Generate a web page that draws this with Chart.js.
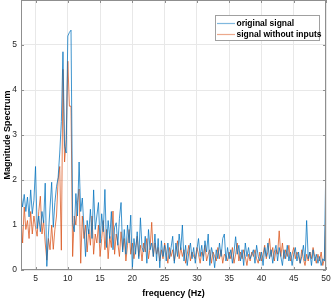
<!DOCTYPE html>
<html>
<head>
<meta charset="utf-8">
<script src="https://cdn.jsdelivr.net/npm/chart.js@4/dist/chart.umd.min.js"></script>
<style>
    html, body { margin: 0; padding: 0; background: #fff; }
    #wrap { width: 334px; height: 299px; position: relative; }
</style>
</head>
<body>
<div id="wrap"><canvas id="chart"></canvas></div>
<script>
// frequency grid (Hz)
const freqStart = 2.75;
const freqStep = 0.25;
const xTicks = [5, 10, 15, 20, 25, 30, 35, 40, 45, 50];
const yTicks = [0, 1, 2, 3, 4, 5];

// magnitude, 4 samples per Hz
const originalSignal = [
    1.70, 1.40, 1.68, 1.30,  1.62, 1.18, 1.78, 1.25,  1.55, 2.30, 0.92, 1.20,
    0.85, 1.30, 1.05, 1.93,  0.08, 0.80, 1.40, 1.95,  0.95, 1.50, 1.85, 2.05,
    2.60, 3.30, 4.85, 2.75,  2.60, 5.20, 5.28, 5.33,  1.05, 0.85, 1.70, 1.20,
    2.40, 1.30, 1.60, 0.95,  0.30, 1.10, 0.80, 1.35,  0.70, 1.78, 0.90, 1.20,
    1.50, 0.60, 1.25, 0.85,  1.79, 0.50, 1.10, 0.70,  1.30, 0.45, 0.95, 1.05,
    0.55, 1.15, 1.50, 0.40,  0.90, 0.35, 1.00, 0.60,  1.22, 0.02, 0.70, 0.35,
    0.85, 0.25, 1.16, 0.50,  0.40, 0.75, 0.15, 0.90,  0.45, 0.60, 0.30, 0.80,
    0.20, 0.70, 0.05, 0.65,  0.30, 0.55, 0.20, 0.60,  0.25, 0.50, 0.75, 0.15,
    0.60, 0.30, 0.80, 0.45,  1.00, 0.20, 0.55, 0.10,  0.40, 0.60, 0.25, 0.50,
    0.15, 0.45, 0.70, 0.30,  0.55, 0.20, 0.65, 0.40,  0.80, 0.10, 0.50, 0.35,
    0.05, 0.45, 0.25, 0.60,  0.30, 0.70, 0.80, 0.20,  0.50, 0.25, 0.45, 0.15,
    0.40, 0.74, 0.35, 0.55,  0.20, 0.45, 0.10, 0.60,  0.30, 0.50, 0.25, 0.35,
    0.45, 0.15, 0.55, 0.30,  0.20, 0.40, 0.10, 0.50,  0.30, 0.60, 0.25, 0.45,
    0.15, 0.40, 0.55, 0.20,  0.50, 0.30, 0.10, 0.45,  0.25, 0.55, 0.20, 0.40,
    0.10, 0.35, 0.50, 0.20,  0.40, 0.15, 0.30, 0.55,  0.20, 1.10, 0.25, 0.40,
    0.10, 0.45, 0.20, 0.35,  0.15, 0.30, 0.10, 0.25,  0.20, 2.60
];

const signalWithoutInputs = [
    1.20, 0.60, 1.40, 0.90,  1.10, 0.70, 1.30, 0.80,  1.20, 0.95, 0.75, 1.30,
    1.64, 0.80, 1.10, 0.60,  0.22, 0.70, 0.45, 1.00,  0.46, 0.90, 1.20, 2.00,
    2.30, 0.44, 4.46, 2.40,  2.90, 4.64, 3.64, 3.64,  0.30, 1.20, 1.00, 1.50,
    1.80, 0.15, 1.20, 0.70,  1.00, 0.40, 0.90, 0.55,  1.20, 0.35, 0.80, 0.60,
    1.00, 0.30, 0.70, 1.10,  0.45, 0.90, 0.25, 0.75,  0.50, 1.31, 0.35, 0.80,
    0.60, 0.30, 0.85, 0.45,  0.70, 0.20, 0.55, 0.90,  0.35, 0.60, 0.25, 0.50,
    0.75, 0.30, 0.55, 0.20,  0.60, 0.40, 0.70, 0.25,  0.50, 1.06, 0.30, 0.60,
    0.35, 0.50, 0.20, 0.45,  0.25, 0.60, 0.40, 0.15,  0.50, 0.30, 0.45, 0.20,
    0.40, 0.65, 0.25, 0.50,  0.30, 0.45, 0.15, 0.35,  0.55, 0.20, 0.40, 0.30,
    0.25, 0.50, 0.35, 0.15,  0.40, 0.30, 0.55, 0.20,  0.35, 0.45, 0.15, 0.40,
    0.30, 0.20, 0.50, 0.25,  0.45, 0.15, 0.35, 0.30,  0.20, 0.40, 0.25, 0.50,
    0.15, 0.35, 0.60, 0.20,  0.40, 0.25, 0.45, 0.30,  0.10, 0.35, 0.20, 0.40,
    0.30, 0.45, 0.25, 0.15,  0.40, 0.20, 0.35, 0.55,  0.25, 0.40, 0.70, 0.30,
    0.50, 0.20, 0.45, 0.35,  0.87, 0.30, 0.60, 0.25,  0.45, 0.30, 0.55, 0.20,
    0.35, 0.50, 0.25, 0.40,  0.30, 0.15, 0.45, 0.25,  0.10, 0.35, 0.20, 0.40,
    0.25, 0.50, 0.30, 0.15,  0.35, 0.20, 0.40, 0.10,  0.25, 1.40
];

const seriesLabels = ['original signal', 'signal without inputs'];
const seriesColors = ['rgba(0,114,189,0.75)', 'rgba(217,83,25,0.75)'];

const toPoints = vals => vals.map((v, i) => ({ x: freqStart + i * freqStep, y: v }));

const FONT = '"Liberation Sans", Arial, sans-serif';
const AXIS_COLOR = '#8f8f8f';

// MATLAB style box, inward ticks, legend in the top right corner
const matlabBox = {
    id: 'matlabBox',
    afterDatasetsDraw(chart) {
        const { ctx, chartArea: a, scales } = chart;
        ctx.save();
        ctx.strokeStyle = AXIS_COLOR;
        ctx.lineWidth = 1;
        ctx.strokeRect(a.left + 0.5, a.top + 0.5, a.right - a.left - 1, a.bottom - a.top - 1);
        ctx.beginPath();
        xTicks.forEach(t => {
            const px = Math.round(scales.x.getPixelForValue(t)) + 0.5;
            ctx.moveTo(px, a.bottom); ctx.lineTo(px, a.bottom - 3);
            ctx.moveTo(px, a.top); ctx.lineTo(px, a.top + 3);
        });
        yTicks.forEach(t => {
            const py = Math.round(scales.y.getPixelForValue(t)) + 0.5;
            ctx.moveTo(a.left, py); ctx.lineTo(a.left + 3, py);
            ctx.moveTo(a.right, py); ctx.lineTo(a.right - 3, py);
        });
        ctx.stroke();

        // legend
        const bx = 215.5, by = 15.5, bw = 104, bh = 25;
        ctx.fillStyle = '#fff';
        ctx.fillRect(bx, by, bw, bh);
        ctx.strokeStyle = '#a0a0a0';
        ctx.strokeRect(bx, by, bw, bh);
        ctx.font = 'bold 8.5px ' + FONT;
        ctx.textBaseline = 'middle';
        ctx.fillStyle = '#000';
        seriesLabels.forEach((lab, i) => {
            const y = 23.5 + i * 11;
            ctx.strokeStyle = seriesColors[i].replace('0.75', '0.5');
            ctx.lineWidth = 1.2;
            ctx.beginPath();
            ctx.moveTo(217, y); ctx.lineTo(235, y);
            ctx.stroke();
            ctx.fillText(lab, 236.5, y);
        });
        ctx.restore();
    }
};

new Chart(document.getElementById('chart'), {
    type: 'line',
    data: {
        datasets: [
            { label: seriesLabels[0], data: toPoints(originalSignal) },
            { label: seriesLabels[1], data: toPoints(signalWithoutInputs) }
        ].map((d, i) => ({
            ...d,
            borderColor: seriesColors[i],
            borderWidth: 1,
            pointRadius: 0,
            tension: 0,
            fill: false
        }))
    },
    options: {
        responsive: true,
        maintainAspectRatio: false,
        animation: false,
        layout: { padding: { top: 0, right: 8, left: 0, bottom: 0 } },
        plugins: {
            legend: { display: false },
            tooltip: { enabled: false }
        },
        scales: {
            x: {
                type: 'linear',
                min: freqStart,
                max: 50,
                afterBuildTicks: s => { s.ticks = xTicks.map(v => ({ value: v })); },
                afterFit: s => { s.height = 29; s.paddingLeft = 0; s.paddingRight = 0; },
                grid: { color: '#e8e8e8', drawTicks: false },
                border: { display: false },
                ticks: { color: '#262626', font: { family: FONT, size: 8.5 }, padding: 4, maxRotation: 0 },
                title: {
                    display: true, text: 'frequency (Hz)', color: '#000',
                    font: { family: FONT, size: 9, weight: 'bold' }, padding: { top: 0, bottom: 0 }
                }
            },
            y: {
                min: 0,
                max: 6,
                afterBuildTicks: s => { s.ticks = yTicks.concat([6]).map(v => ({ value: v })); },
                afterFit: s => { s.width = 21; s.paddingTop = 0; s.paddingBottom = 0; },
                grid: { color: '#e8e8e8', drawTicks: false },
                border: { display: false },
                ticks: {
                    color: '#262626', font: { family: FONT, size: 8.5 }, padding: 4,
                    callback: v => (v === 6 ? '' : v)
                },
                title: {
                    display: true, text: 'Magnitude Spectrum', color: '#000',
                    font: { family: FONT, size: 9, weight: 'bold' }, padding: { top: 2, bottom: 0 }
                }
            }
        }
    },
    plugins: [matlabBox]
});
</script>
</body>
</html>
